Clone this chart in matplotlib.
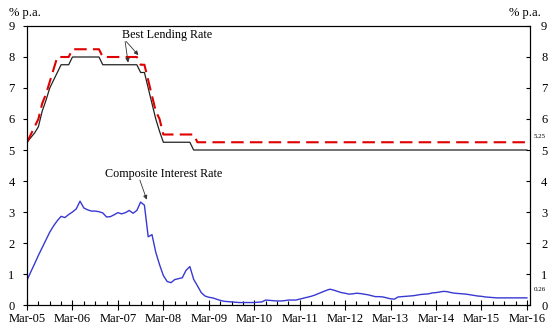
import numpy as np
import matplotlib
matplotlib.use('Agg')
import matplotlib.pyplot as plt
from matplotlib.ticker import MultipleLocator

plt.rcParams['font.family'] = ['Liberation Serif', 'DejaVu Serif']

# monthly observations, Mar-05 .. Mar-16
years = ['Mar-05', 'Mar-06', 'Mar-07', 'Mar-08', 'Mar-09', 'Mar-10',
         'Mar-11', 'Mar-12', 'Mar-13', 'Mar-14', 'Mar-15', 'Mar-16']

blr_low = ([5.25, 5.4, 5.55, 5.75, 6.25, 6.6, 7.0, 7.25, 7.5, 7.75, 7.75, 7.75]
           + [8.0] * 8 + [7.75] * 10
           + [7.5, 7.5, 7.0, 6.5, 6.0, 5.6]
           + [5.25] * 8 + [5.0] * 89)

blr_high = ([5.25, 5.5, 5.75, 6.0, 6.5, 6.8, 7.2, 7.6, 8.0, 8.0, 8.0, 8.0]
            + [8.25] * 8 + [8.0] * 10
            + [7.75, 7.75, 7.25, 6.75, 6.25, 6.0]
            + [5.5] * 9 + [5.25] * 88)

composite = [0.80, 1.07, 1.33, 1.60, 1.85, 2.10, 2.35, 2.55, 2.72, 2.86, 2.82, 2.92,
             3.00, 3.10, 3.35, 3.13, 3.07, 3.03, 3.03, 3.01, 2.97, 2.84, 2.85, 2.91,
             2.98, 2.94, 2.98, 3.05, 2.96, 3.05, 3.32, 3.22, 2.20, 2.27, 1.70, 1.30,
             0.95, 0.76, 0.72, 0.82, 0.85, 0.88, 1.12, 1.24, 0.83, 0.62, 0.40, 0.29,
             0.25, 0.23, 0.19, 0.15, 0.12, 0.11, 0.10, 0.09, 0.08, 0.08, 0.08, 0.08,
             0.08, 0.09, 0.10, 0.16, 0.15, 0.14, 0.13, 0.13, 0.14, 0.16, 0.16, 0.16,
             0.19, 0.22, 0.25, 0.28, 0.32, 0.37, 0.42, 0.47, 0.51, 0.48, 0.44, 0.40,
             0.38, 0.35, 0.36, 0.38, 0.37, 0.35, 0.33, 0.30, 0.27, 0.27, 0.26, 0.23,
             0.20, 0.19, 0.26, 0.27, 0.28, 0.29, 0.30, 0.32, 0.34, 0.35, 0.36, 0.39,
             0.40, 0.42, 0.44, 0.43, 0.40, 0.38, 0.37, 0.36, 0.35, 0.33, 0.31, 0.29,
             0.28, 0.26, 0.25, 0.24, 0.23, 0.23, 0.23, 0.23, 0.23, 0.23, 0.23, 0.23,
             0.23]

x = np.arange(len(composite))

fig = plt.figure(figsize=(5.56, 3.32), dpi=100)
ax = fig.add_axes([0.0486, 0.0813, 0.9045, 0.8404])

ax.plot(x, blr_low, color='#222222', lw=0.9)
ax.plot(x, blr_high, color='#e00000', lw=1.5, dashes=(6, 3))
ax.plot(x, composite, color='#3838d4', lw=1.0)

ax.set_xlim(0, 132.8)
ax.set_ylim(0, 9)
ax.set_xticks(np.arange(0, 133, 12))
ax.set_xticklabels(years, fontsize=9)
ax.xaxis.set_minor_locator(MultipleLocator(3))
ax.tick_params(axis='x', which='major', direction='inout', length=7, width=0.8, pad=2)
ax.tick_params(axis='x', which='minor', direction='in', length=3, width=0.8)
ax.set_yticks(range(10))
ax.tick_params(axis='y', direction='out', length=3, labelsize=9, pad=6)
for sp in ax.spines.values():
    sp.set_linewidth(0.8)

ax2 = ax.twinx()
ax2.set_ylim(0, 9)
ax2.set_yticks(range(10))
ax2.tick_params(axis='y', direction='in', length=3, labelsize=9, pad=8)

fig.text(0.016, 0.944, '% p.a.', fontsize=9, ha='left', va='bottom')
fig.text(0.972, 0.944, '% p.a.', fontsize=9, ha='right', va='bottom')

ax.text(133.8, 5.25 + 0.12, '5.25', fontsize=5, ha='left', va='bottom', clip_on=False)
ax.text(133.8, 0.26 + 0.15, '0.26', fontsize=5, ha='left', va='bottom', clip_on=False)

ax.text(36.9, 8.71, 'Best Lending Rate', fontsize=8.7, ha='center', va='center')
arw = dict(arrowstyle='-|>', color='#333333', lw=0.6, mutation_scale=6,
           shrinkA=0, shrinkB=0)
ax.annotate('', xy=(26.7, 7.82), xytext=(25.9, 8.5), arrowprops=arw)
ax.annotate('', xy=(29.4, 8.06), xytext=(26.2, 8.5), arrowprops=arw)

ax.text(36.0, 4.23, 'Composite Interest Rate', fontsize=8.7, ha='center', va='center')
ax.annotate('', xy=(31.6, 3.4), xytext=(29.8, 4.03), arrowprops=arw)

fig.savefig('out.png', dpi=100)
